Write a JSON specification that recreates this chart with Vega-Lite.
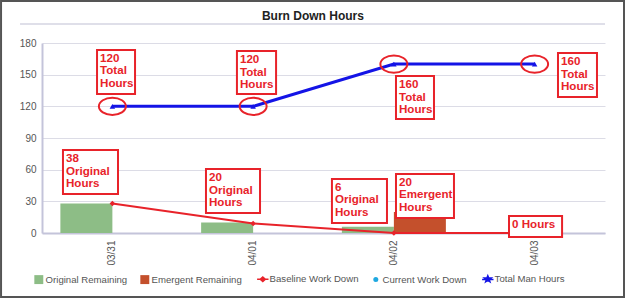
{
  "$schema": "https://vega.github.io/schema/vega-lite/v6.json",
  "width": 563,
  "height": 190,
  "autosize": {"type": "none"},
  "padding": {"left": 42, "top": 43, "right": 21, "bottom": 66},
  "background": "white",
  "config": {
    "view": {"stroke": null},
    "font": "Liberation Sans",
    "axis": {"labelOverlap": false}
  },
  "datasets": {
    "bars": [
      {"date": "03/31", "series": "Original Remaining", "hours": 28},
      {"date": "04/01", "series": "Original Remaining", "hours": 10},
      {"date": "04/02", "series": "Original Remaining", "hours": 6},
      {"date": "04/02", "series": "Emergent Remaining", "hours": 20}
    ],
    "lines": [
      {"date": "03/31", "series": "Baseline Work Down", "hours": 28},
      {"date": "04/01", "series": "Baseline Work Down", "hours": 9},
      {"date": "04/02", "series": "Baseline Work Down", "hours": 0},
      {"date": "04/03", "series": "Baseline Work Down", "hours": 0},
      {"date": "03/31", "series": "Total Man Hours", "hours": 120},
      {"date": "04/01", "series": "Total Man Hours", "hours": 120},
      {"date": "04/02", "series": "Total Man Hours", "hours": 160},
      {"date": "04/03", "series": "Total Man Hours", "hours": 160}
    ],
    "boxes": [
      {"x1": 0.391, "x2": 0.661, "y1": 173.4, "y2": 131.7, "label": ["120", "Total", "Hours"]},
      {"x1": 1.385, "x2": 1.663, "y1": 172.4, "y2": 131.7, "label": ["120", "Total", "Hours"]},
      {"x1": 2.515, "x2": 2.785, "y1": 148.7, "y2": 108.0, "label": ["160", "Total", "Hours"]},
      {"x1": 3.666, "x2": 3.943, "y1": 170.5, "y2": 128.8, "label": ["160", "Total", "Hours"]},
      {"x1": 0.149, "x2": 0.54, "y1": 78.6, "y2": 36.9, "label": ["38", "Original", "Hours"]},
      {"x1": 1.165, "x2": 1.549, "y1": 60.6, "y2": 18.9, "label": ["20", "Original", "Hours"]},
      {"x1": 2.06, "x2": 2.451, "y1": 51.2, "y2": 9.5, "label": ["6", "Original", "Hours"]},
      {"x1": 2.515, "x2": 2.927, "y1": 55.9, "y2": 14.2, "label": ["20", "Emergent", "Hours"]},
      {"x1": 3.318, "x2": 3.695, "y1": 16.1, "y2": -3.8, "label": ["0 Hours"]}
    ],
    "rings": [
      {"cx": 0.5, "cy": 120},
      {"cx": 1.5, "cy": 120},
      {"cx": 2.5, "cy": 160},
      {"cx": 3.5, "cy": 160}
    ],
    "heading": [
      {"x": 1.925, "y": 201.8, "text": "Burn Down Hours"}
    ],
    "divider": [
      {"x1": -0.156, "x2": 4.0, "y1": 198}
    ],
    "frame": [
      {"x1": -0.291, "x2": 4.135, "y1": 219.8, "y2": -60.6}
    ]
  },
  "layer": [
    {
      "layer": [
        {
          "data": {"name": "bars"},
          "transform": [{"filter": "datum.series === 'Original Remaining'"}],
          "mark": {"type": "bar", "width": 52, "xOffset": -26},
          "encoding": {
            "x": {
              "field": "date",
              "type": "nominal",
              "scale": {"domain": ["03/31", "04/01", "04/02", "04/03"], "paddingInner": 0, "paddingOuter": 0},
              "axis": {
                "title": null,
                "labelAngle": -90,
                "labelFontSize": 10,
                "labelColor": "#555555",
                "labelPadding": 7,
                "ticks": false,
                "domainColor": "#c4c4da",
                "domainWidth": 2,
                "grid": false
              }
            },
            "y": {
              "field": "hours",
              "type": "quantitative",
              "scale": {"domain": [0, 180], "nice": false},
              "axis": {
                "title": null,
                "values": [0, 30, 60, 90, 120, 150, 180],
                "tickCount": 7,
                "labelOverlap": false,
                "labelFontSize": 10,
                "labelColor": "#555555",
                "labelPadding": 6,
                "ticks": false,
                "domainColor": "#c4c4da",
                "domainWidth": 2,
                "gridColor": "#dcdce6",
                "gridWidth": 1
              }
            },
            "color": {
              "field": "series",
              "type": "nominal",
              "scale": {
                "domain": ["Original Remaining", "Emergent Remaining", "Baseline Work Down", "Current Work Down", "Total Man Hours"],
                "range": ["#8dbd86", "#c4502c", "#e8232a", "#1fa8e0", "#1414e6"]
              },
              "legend": {
                "title": null,
                "orient": "none",
                "legendX": -8,
                "legendY": 231,
                "direction": "horizontal",
                "labelFontSize": 9.6,
                "labelColor": "#555555",
                "labelFont": "Liberation Sans",
                "labelOffset": 2,
                "columnPadding": 12,
                "symbolType": "square",
                "encode": {
                  "symbols": {
                    "update": {
                      "shape": {"signal": "datum.value === 'Baseline Work Down' ? 'M-1,0H1M0,-0.4L0.45,0L0,0.4L-0.45,0Z' : datum.value === 'Current Work Down' ? 'circle' : datum.value === 'Total Man Hours' ? 'M-1,0.1H1M0,-0.55L0.16,-0.15L0.58,-0.15L0.24,0.1L0.37,0.5L0,0.26L-0.37,0.5L-0.24,0.1L-0.58,-0.15L-0.16,-0.15Z' : 'square'"},
                      "size": {"signal": "datum.value === 'Current Work Down' ? 25 : (datum.value === 'Baseline Work Down' || datum.value === 'Total Man Hours') ? 130 : 80"},
                      "stroke": {"signal": "scale('color', datum.value)"},
                      "strokeWidth": {"signal": "(datum.value === 'Baseline Work Down' || datum.value === 'Total Man Hours') ? 1.5 : 0"}
                    }
                  }
                }
              }
            }
          }
        },
        {
          "data": {"name": "bars"},
          "transform": [{"filter": "datum.series === 'Emergent Remaining'"}],
          "mark": {"type": "bar", "width": 52, "xOffset": 26},
          "encoding": {
            "x": {"field": "date", "type": "nominal"},
            "y": {"field": "hours", "type": "quantitative"},
            "color": {"field": "series", "type": "nominal"}
          }
        },
        {
          "data": {"name": "lines"},
          "mark": {"type": "line", "strokeWidth": 2},
          "transform": [{"filter": "datum.series === 'Baseline Work Down'"}],
          "encoding": {
            "x": {"field": "date", "type": "nominal"},
            "y": {"field": "hours", "type": "quantitative"},
            "color": {"field": "series", "type": "nominal"}
          }
        },
        {
          "data": {"name": "lines"},
          "mark": {"type": "point", "shape": "diamond", "filled": true, "size": 30, "opacity": 1},
          "transform": [{"filter": "datum.series === 'Baseline Work Down'"}],
          "encoding": {
            "x": {"field": "date", "type": "nominal"},
            "y": {"field": "hours", "type": "quantitative"},
            "color": {"field": "series", "type": "nominal"}
          }
        },
        {
          "data": {"name": "lines"},
          "mark": {"type": "line", "strokeWidth": 3},
          "transform": [{"filter": "datum.series === 'Total Man Hours'"}],
          "encoding": {
            "x": {"field": "date", "type": "nominal"},
            "y": {"field": "hours", "type": "quantitative"},
            "color": {"field": "series", "type": "nominal"}
          }
        },
        {
          "data": {"name": "lines"},
          "mark": {"type": "point", "shape": "triangle-up", "filled": true, "size": 30, "opacity": 1},
          "transform": [{"filter": "datum.series === 'Total Man Hours'"}],
          "encoding": {
            "x": {"field": "date", "type": "nominal"},
            "y": {"field": "hours", "type": "quantitative"},
            "color": {"field": "series", "type": "nominal"}
          }
        }
      ]
    },
    {
      "layer": [
        {
          "data": {"name": "divider"},
          "mark": {"type": "rule", "color": "#d4d4e2", "strokeWidth": 1.5},
          "encoding": {
            "x": {"field": "x1", "type": "quantitative", "scale": {"domain": [0, 4], "nice": false, "zero": false}, "axis": null},
            "x2": {"field": "x2"},
            "y": {
              "field": "y1",
              "type": "quantitative",
              "axis": {
                "title": null,
                "values": [0, 30, 60, 90, 120, 150, 180],
                "tickCount": 7,
                "labelOverlap": false,
                "labelFontSize": 10,
                "labelColor": "#555555",
                "labelPadding": 6,
                "ticks": false,
                "domainColor": "#c4c4da",
                "domainWidth": 2,
                "gridColor": "#dcdce6",
                "gridWidth": 1
              }
            }
          }
        },
        {
          "data": {"name": "heading"},
          "mark": {"type": "text", "align": "center", "baseline": "alphabetic", "font": "Liberation Sans", "fontSize": 12, "fontWeight": "bold", "color": "#222222"},
          "encoding": {
            "x": {"field": "x", "type": "quantitative"},
            "y": {"field": "y", "type": "quantitative"},
            "text": {"field": "text"}
          }
        },
        {
          "data": {"name": "frame"},
          "mark": {"type": "rect", "fill": "transparent", "stroke": "#555555", "strokeWidth": 2},
          "encoding": {
            "x": {"field": "x1", "type": "quantitative"},
            "x2": {"field": "x2"},
            "y": {"field": "y1", "type": "quantitative"},
            "y2": {"field": "y2"}
          }
        },
        {
          "data": {"name": "rings"},
          "mark": {"type": "point", "shape": "M-1,0A1,0.64 0 1,1 1,0A1,0.64 0 1,1 -1,0Z", "filled": false, "stroke": "#e8232a", "strokeWidth": 2, "size": 729, "opacity": 1},
          "encoding": {
            "x": {"field": "cx", "type": "quantitative"},
            "y": {"field": "cy", "type": "quantitative"}
          }
        },
        {
          "data": {"name": "boxes"},
          "mark": {"type": "rect", "fill": "white", "stroke": "#e8232a", "strokeWidth": 2},
          "encoding": {
            "x": {"field": "x1", "type": "quantitative"},
            "x2": {"field": "x2"},
            "y": {"field": "y1", "type": "quantitative"},
            "y2": {"field": "y2"}
          }
        },
        {
          "data": {"name": "boxes"},
          "mark": {"type": "text", "align": "left", "baseline": "top", "dx": 3, "dy": 3, "font": "Liberation Sans", "fontSize": 11.6, "fontWeight": "bold", "color": "#e8232a", "lineHeight": 12.5},
          "encoding": {
            "x": {"field": "x1", "type": "quantitative"},
            "y": {"field": "y1", "type": "quantitative"},
            "text": {"field": "label"}
          }
        }
      ]
    }
  ],
  "resolve": {"scale": {"x": "independent"}, "axis": {"x": "independent"}}
}
